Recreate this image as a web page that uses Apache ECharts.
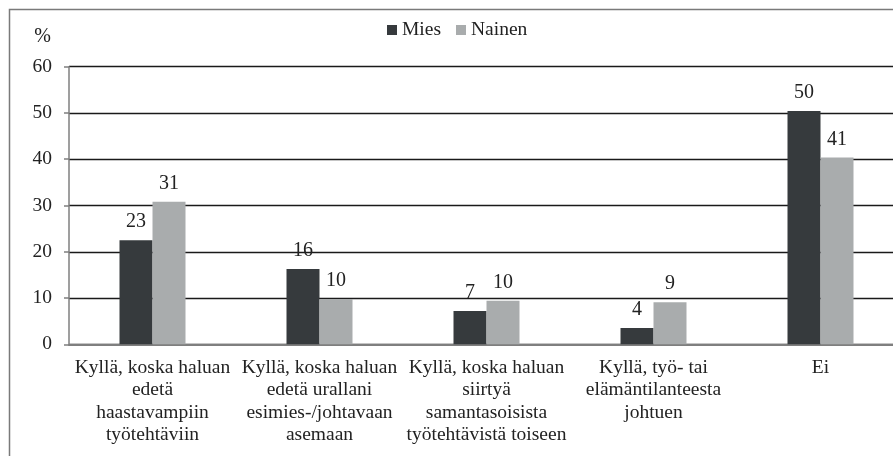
<!DOCTYPE html>
<html>
<head>
<meta charset="utf-8">
<script src="https://cdn.jsdelivr.net/npm/echarts@6/dist/echarts.min.js"></script>
<style>
html,body{margin:0;padding:0;background:#fff;}
#chart{width:893px;height:456px;}
</style>
</head>
<body>
<div id="chart"></div>
<script>
var categories = [
  "Kyllä, koska haluan\nedetä\nhaastavampiin\ntyötehtäviin",
  "Kyllä, koska haluan\nedetä urallani\nesimies-/johtavaan\nasemaan",
  "Kyllä, koska haluan\nsiirtyä\nsamantasoisista\ntyötehtävistä toiseen",
  "Kyllä, työ- tai\nelämäntilanteesta\njohtuen",
  "Ei"
];
var seriesNames = ["Mies", "Nainen"];
var miesValues = [22.5, 16.3, 7.2, 3.5, 50.4];
var miesLabels = [23, 16, 7, 4, 50];
var nainenValues = [30.8, 9.8, 9.4, 9.1, 40.4];
var nainenLabels = [31, 10, 10, 9, 41];
var yTicks = [0, 10, 20, 30, 40, 50, 60];

var FONT = '"Liberation Serif", "Times New Roman", serif';
var TXT = '#222222';
var FS = 19.5;

var chart = echarts.init(document.getElementById('chart'), null, {renderer: 'canvas'});
function labelFor(arr) {
  return {
    show: true, position: 'top', distance: 8,
    fontFamily: FONT, fontSize: 20, color: TXT,
    formatter: function (p) { return String(arr[p.dataIndex]); }
  };
}
chart.setOption({
  animation: false,
  backgroundColor: '#ffffff',
  graphic: [{
    type: 'rect', left: 7, top: 7, silent: true,
    shape: {x: 0, y: 0, width: 960, height: 520},
    style: {fill: 'none', stroke: '#7a7a7a', lineWidth: 1.5}
  }],
  legend: {
    left: 382, top: 15,
    itemWidth: 10, itemHeight: 10, itemGap: 15,
    icon: 'rect',
    textStyle: {fontFamily: FONT, fontSize: FS, color: TXT},
    data: seriesNames
  },
  grid: {left: 69, top: 66.7, width: 835, height: 277.6, containLabel: false, outerBoundsMode: 'none'},
  xAxis: {
    type: 'category', data: categories,
    axisLine: {show: true, lineStyle: {color: '#7f7f7f', width: 2}},
    axisTick: {show: false},
    axisLabel: {
      interval: 0, margin: 12,
      fontFamily: FONT, fontSize: FS, color: TXT, lineHeight: 22.5, align: 'center'
    }
  },
  yAxis: {
    type: 'value', min: 0, max: 60, interval: 10,
    name: '%', nameLocation: 'end', nameGap: 20,
    nameTextStyle: {fontFamily: FONT, fontSize: 20, color: TXT, align: 'right', padding: [0, 18, 0, 0]},
    axisLine: {show: true, lineStyle: {color: '#7f7f7f', width: 1.5}},
    axisTick: {show: true, length: 5, lineStyle: {color: '#7f7f7f', width: 1.5}},
    axisLabel: {
      margin: 17, fontFamily: FONT, fontSize: FS, color: TXT,
      formatter: function (v) { return yTicks.indexOf(v) >= 0 ? String(v) : ''; }
    },
    splitLine: {show: true, lineStyle: {color: '#1a1a1a', width: 1.3}}
  },
  series: [
    {
      name: seriesNames[0], type: 'bar', data: miesValues,
      barWidth: 33, barGap: '0%',
      itemStyle: {color: '#363a3d'},
      label: labelFor(miesLabels)
    },
    {
      name: seriesNames[1], type: 'bar', data: nainenValues,
      barWidth: 33, barGap: '0%',
      itemStyle: {color: '#a9acad'},
      label: labelFor(nainenLabels)
    }
  ]
});
</script>
</body>
</html>
